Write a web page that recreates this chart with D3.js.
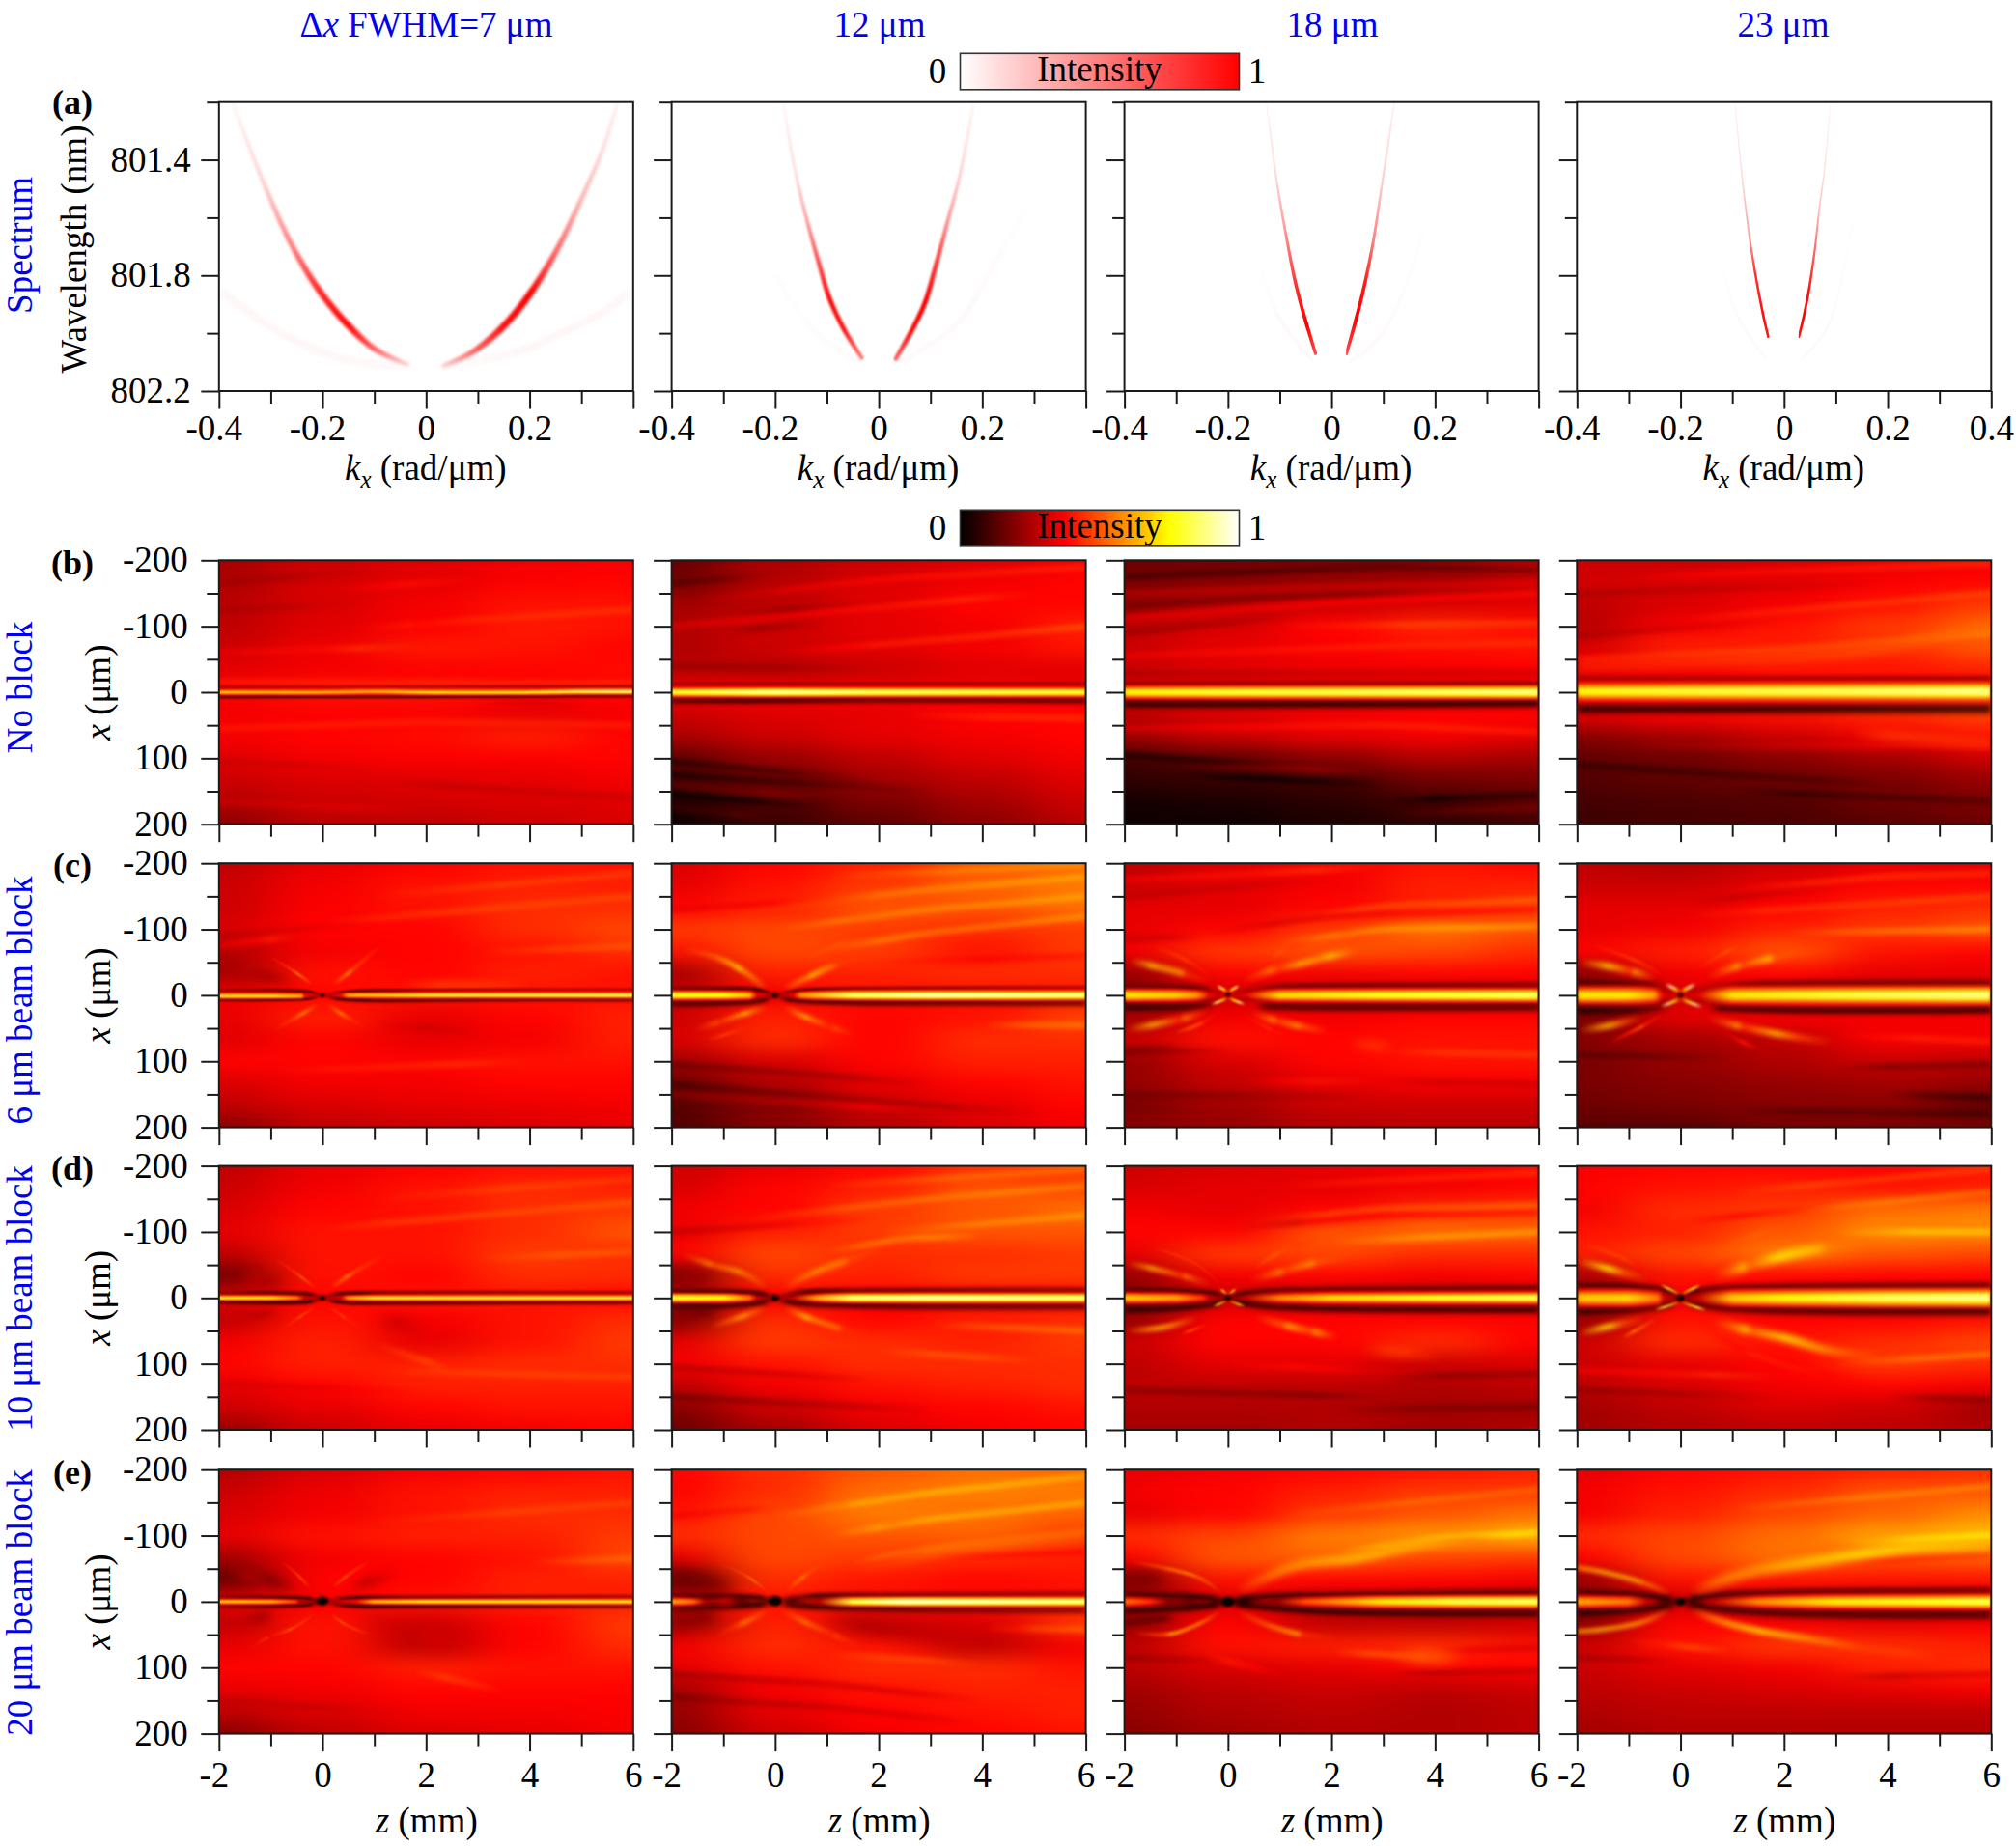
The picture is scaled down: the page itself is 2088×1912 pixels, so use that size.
<!DOCTYPE html>
<html><head><meta charset="utf-8">
<script src="https://cdnjs.cloudflare.com/ajax/libs/d3/7.8.5/d3.min.js"></script>
<style>html,body{margin:0;padding:0;background:#fff}svg{display:block}text{font-family:"Liberation Serif","Times New Roman",serif;fill:#000}</style>
</head><body><svg id="c" width="2088" height="1912" xmlns="http://www.w3.org/2000/svg"></svg>
<script>
// ---- axis ticks -------------------------------------------------------
const kMajor=[-0.4,-0.2,0,0.2,0.4], kMinor=[-0.3,-0.1,0.1,0.3];
const wlMajor=[801.4,801.8,802.2], wlMinor=[801.2,801.6,802.0];
const zMajor=[-2,0,2,4,6], zMinor=[-1,1,3,5];
const xMajor=[-200,-100,0,100,200], xMinor=[-150,-50,50,150];
const columnTitles=["12 μm","18 μm","23 μm"];
const rowLabels=["No block","6 μm beam block","10 μm beam block","20 μm beam block"];
const panelLetters=["(b)","(c)","(d)","(e)"];
const kGap=0.028;
// ---- spectrum branches: [k, wavelength, intensity] --------------------
const specA1=[[[0.03,802.115,.15],[0.09,802.065,.6],[0.15,801.975,.95],[0.2,801.865,1],[0.25,801.72,.6],[0.3,801.535,.3],[0.342,801.36,.15],[0.37,801.2,.06]],
 [[-0.033,802.11,.15],[-0.099,802.055,.6],[-0.149,801.975,.95],[-0.203,801.86,.85],[-0.258,801.7,.5],[-0.316,801.47,.18],[-0.374,801.2,.04]],
 [[0.03,802.115,.02],[0.176,802.065,.03],[0.26,802.0,.03],[0.34,801.93,.03],[0.39,801.86,.03]],
 [[-0.033,802.115,.02],[-0.158,802.09,.03],[-0.28,802.0,.03],[-0.395,801.854,.03]]];
const specA2=[[[0.031,802.094,.6],[0.064,801.99,.95],[0.089,801.896,1],[0.11,801.768,.8],[0.135,801.6,.4],[0.156,801.46,.2],[0.183,801.205,.05]],
 [[-0.031,802.09,.5],[-0.066,801.99,.9],[-0.095,801.88,.95],[-0.115,801.76,.7],[-0.14,801.6,.35],[-0.16,801.45,.15],[-0.185,801.2,.04]],
 [[0.04,802.1,.02],[0.15,801.97,.02],[0.23,801.74,.015],[0.29,801.55,.005]],
 [[-0.04,802.1,.015],[-0.12,802.0,.015],[-0.2,801.8,.01]]];
const specA3=[[[0.028,802.075,.7],[0.048,801.947,1],[0.064,801.83,.9],[0.081,801.678,.5],[0.0975,801.486,.2],[0.121,801.205,.05]],
 [[-0.03,802.075,.7],[-0.048,801.97,1],[-0.069,801.83,.8],[-0.09,801.64,.4],[-0.107,801.46,.15],[-0.125,801.205,.04]],
 [[0.035,802.1,.02],[0.09,802.02,.02],[0.147,801.82,.012],[0.177,801.63,.005]],
 [[-0.035,802.1,.02],[-0.1,801.95,.02],[-0.137,801.78,.005]]];
const specA4=[[[0.028,802.016,.9],[0.037,801.95,1],[0.047,801.86,.95],[0.059,801.715,.6],[0.068,801.57,.25],[0.078,801.436,.12],[0.09,801.2,.04]],
 [[-0.03,802.016,.9],[-0.04,801.94,.95],[-0.056,801.79,.8],[-0.068,801.65,.35],[-0.081,801.46,.15],[-0.095,801.2,.04]],
 [[0.034,802.09,.02],[0.084,801.98,.02],[0.115,801.78,.012],[0.134,801.6,.005]],
 [[-0.034,802.09,.02],[-0.09,801.94,.02],[-0.12,801.76,.005]]];
// ---- heat map background: rows x=-200..200, columns z=-2,0,2,4,6 --------
const zNodes=[-2,0,2,4,6];
const xNodes=[-200,-167,-133,-100,-67,-33,0,33,67,100,133,167,200];
const gridB1=[[24,30,33,36,37],[26,31,34,37,38],[27,32,36,40,40],[28,33,37,41,40],[30,35,41,40,38],[34,36,37,38,39],[36,40,40,38,38],[36,37,37,34,36],[36,38,39,42,38],[33,36,37,37,38],[30,32,33,34,36],[26,30,31,32,33],[20,27,28,30,32]];
const gridB2=[[15,25,30,33,36],[17,27,32,36,38],[24,28,34,38,38],[26,30,34,36,42],[26,30,33,36,40],[27,27,30,33,33],[36,36,36,36,36],[30,33,34,38,38],[25,30,34,36,38],[14,22,28,33,36],[10,16,24,28,33],[5,12,18,24,30],[2,8,14,20,27]];
const gridB3=[[16,16,18,20,26],[18,20,22,24,28],[22,26,30,32,34],[28,32,38,43,40],[30,34,37,39,40],[30,33,35,36,37],[30,30,30,30,30],[28,32,36,38,38],[24,30,34,36,34],[10,14,20,26,24],[7,8,10,16,18],[3,4,6,10,13],[2,2,4,6,10]];
const gridB4=[[30,30,32,34,37],[31,32,34,37,38],[28,32,36,40,46],[27,36,40,46,52],[32,42,42,44,50],[34,36,40,40,42],[36,36,36,36,36],[34,38,40,44,48],[20,24,30,36,40],[14,16,20,24,30],[12,14,16,18,22],[10,11,12,16,18],[9,10,11,13,16]];
const gridC1=[[28,34,37,40,40],[30,36,40,42,42],[30,37,40,44,44],[32,38,38,44,48],[26,36,38,40,44],[24,40,38,42,40],[36,38,40,40,40],[34,42,34,38,42],[33,38,34,36,42],[38,38,38,40,40],[32,36,36,38,38],[28,32,34,35,36],[20,28,30,32,34]];
const gridC2=[[32,38,42,50,52],[34,40,46,52,56],[38,42,50,50,54],[46,48,46,44,46],[40,48,46,40,46],[24,42,42,44,44],[30,36,40,40,40],[30,42,38,40,48],[32,44,38,44,44],[24,32,38,42,42],[16,26,34,38,40],[13,20,30,34,38],[12,20,26,32,36]];
const gridC3=[[28,32,36,40,38],[30,34,36,42,42],[34,34,38,42,46],[34,38,46,54,50],[36,46,50,48,44],[22,38,36,38,38],[20,30,30,30,30],[24,36,36,38,38],[30,40,38,40,40],[22,32,38,40,40],[22,28,34,36,36],[18,24,30,30,30],[20,22,26,28,28]];
const gridC4=[[28,26,30,34,34],[30,30,34,38,38],[34,34,38,42,44],[34,36,42,46,50],[38,42,50,40,38],[20,36,38,34,34],[24,30,32,32,32],[18,34,36,36,36],[20,24,28,36,36],[18,22,26,30,28],[18,20,22,24,22],[16,18,20,20,14],[13,13,17,18,18]];
const gridD1=[[28,34,37,39,40],[30,36,40,44,42],[32,38,40,44,46],[34,40,40,44,50],[28,40,40,46,44],[16,40,38,44,44],[32,38,40,40,38],[28,40,36,40,44],[36,42,34,40,46],[38,42,42,44,44],[34,38,42,42,42],[30,34,38,40,40],[22,30,34,36,38]];
const gridD2=[[30,34,38,44,46],[32,38,42,50,48],[36,38,46,50,54],[34,42,46,50,50],[38,48,44,44,46],[16,44,42,46,46],[30,36,38,38,38],[18,44,38,42,44],[34,46,44,42,46],[36,40,44,44,44],[28,36,40,42,44],[20,30,36,38,40],[16,24,32,36,38]];
const gridD3=[[30,32,34,36,38],[32,34,34,36,38],[36,34,38,44,46],[38,38,50,54,52],[34,46,48,44,44],[22,36,38,36,38],[20,30,30,30,30],[22,38,38,38,38],[30,38,38,44,38],[28,34,34,30,32],[28,28,28,26,28],[26,26,26,24,24],[24,24,26,24,26]];
const gridD4=[[36,38,38,38,40],[38,40,42,40,42],[36,44,46,54,56],[40,42,50,58,58],[42,48,56,50,48],[24,40,38,38,38],[30,36,36,36,36],[22,40,38,38,40],[30,44,40,44,48],[30,34,38,46,44],[28,32,36,38,36],[24,28,32,30,24],[24,26,28,28,26]];
const gridE1=[[26,32,36,38,40],[30,35,40,42,42],[32,36,40,44,44],[34,40,42,42,46],[24,36,38,40,48],[14,38,38,42,42],[34,36,40,42,42],[28,40,30,38,46],[34,40,28,38,44],[38,38,42,40,40],[34,36,38,38,38],[28,32,36,36,37],[20,28,32,34,36]];
const gridE2=[[38,44,50,54,52],[38,44,54,56,56],[40,48,56,54,52],[44,48,50,52,46],[34,48,46,44,42],[14,44,40,38,40],[32,40,40,40,40],[22,42,30,32,46],[36,44,40,28,36],[34,40,44,44,40],[24,36,40,42,42],[22,34,38,40,42],[20,30,36,38,40]];
const gridE3=[[34,36,38,40,42],[36,38,42,46,46],[34,38,46,50,54],[44,48,56,60,64],[38,50,52,48,46],[18,40,38,38,36],[26,32,30,30,30],[22,38,28,28,30],[28,40,42,44,40],[28,32,34,38,38],[24,28,30,28,30],[22,26,28,26,28],[20,24,26,26,28]];
const gridE4=[[34,38,40,42,44],[36,40,44,50,50],[36,42,48,52,58],[44,48,54,62,66],[38,48,54,50,52],[22,40,40,40,40],[24,30,32,32,32],[20,38,36,34,36],[30,40,46,44,42],[30,34,36,42,44],[28,30,32,34,36],[26,28,28,28,28],[24,26,26,26,26]];
// ---- faint streaks: [contrast, [z, x], ...]; positive is lighter, negative darker --
const streakB1=[[-.10,[-2,-125],[1,-135]],[-.12,[-2,-165],[1,-185]],[.12,[-1,-150],[3,-170]],[.15,[.5,-95],[3,-110],[6,-125]],[.12,[-2,-60],[2,-70]],[.15,[-2,55],[2,45],[6,50]],[-.12,[3,15],[5,20]],[-.10,[-2,105],[1,115]],[-.12,[1,135],[6,160]],[.1,[-2,165],[2,180]]];
const streakB2=[[-.2,[-2,-165],[0,-178]],[.2,[-1.5,-140],[2,-170],[6,-190]],[-.18,[-1,-118],[3,-140]],[.2,[-2,-100],[1,-122],[5,-150]],[-.2,[-1,-92],[1,-105]],[.25,[0,-60],[4,-85],[6,-100]],[-.15,[-2,-40],[2,-35]],[.2,[2.5,35],[6,40]],[-.25,[-2,105],[2,135]],[-.25,[-2,125],[3,150]],[-.25,[-2,155],[1,175]],[.15,[-2,140],[1,160]],[.12,[-2,175],[0,190]]];
const streakB3=[[-.25,[-2,-175],[3,-190],[6,-185]],[.2,[-2,-150],[2,-160],[6,-165]],[-.2,[-2,-130],[1,-145],[4,-155]],[.25,[-2,-112],[2,-135],[6,-150]],[-.2,[-2,-90],[1.2,-115]],[.2,[1,-100],[6,-105]],[.15,[-2,-55],[3,-70],[6,-75]],[-.15,[-2,-28],[6,-30]],[.2,[-2,55],[3,50],[6,60]],[-.25,[-2,95],[1,112]],[-.3,[-1,125],[3,140]],[.2,[-1,110],[3,120]],[.2,[3,185],[6,175]],[-.25,[3,165],[6,155]]];
const streakB4=[[.2,[-1,-175],[6,-195]],[-.15,[-2,-150],[4,-165]],[.2,[0,-110],[6,-150]],[-.15,[-2,-85],[2,-110]],[.2,[-2,-50],[2,-65],[6,-90]],[-.2,[-2,110],[4,140]],[-.2,[1,150],[6,165]],[.15,[-1,80],[6,80]]];
const streakC1=[[.18,[1,-150],[6,-185]],[.18,[0,-110],[6,-150]],[-.12,[-2,-90],[1,-110]],[.2,[3,-65],[6,-75]],[.2,[-2,-75],[-.5,-90]],[-.15,[1,45],[3,55]],[.15,[-1,115],[4,100]]];
const streakC2=[[.25,[1,-180],[6,-198]],[.25,[-.5,-130],[3,-160],[6,-180]],[.25,[0,-100],[3,-130],[6,-150]],[-.15,[-2,-130],[2,-150]],[.3,[1,-70],[3,-95],[6,-120]],[-.15,[2,-50],[6,-60]],[.3,[4,45],[6,45]],[-.25,[-2,105],[0,115],[3,135]],[-.2,[-2,135],[2,160],[5,180]],[.15,[-2,150],[3,175]]];
const streakC3=[[.2,[-2,-175],[3,-195]],[-.15,[-2,-150],[2,-175]],[.25,[1,-110],[3,-135],[6,-145]],[-.2,[-.5,-95],[2,-120],[6,-130]],[.3,[1,-80],[3,-100],[6,-105]],[-.2,[-2,-85],[-.5,-90]],[-.25,[-2,85],[0,85]],[.2,[3,85],[6,90]],[-.18,[3,130],[6,135]],[-.15,[-2,150],[3,155]],[.15,[-1,130],[3,130]]];
const streakC4=[[.25,[1,-160],[4,-180],[6,-185]],[-.15,[0,-140],[3,-165]],[.2,[0,-120],[3,-135],[6,-150]],[.3,[2,-95],[6,-100]],[-.2,[-2,90],[1,95]],[-.3,[3,110],[6,105]],[-.3,[4,150],[6,155]],[-.2,[1,175],[6,180]],[.2,[3,60],[6,70]]];
const streakD1=[[.15,[1,-150],[6,-180]],[.2,[0,-105],[6,-145]],[.2,[3,-60],[6,-70]],[.15,[1,110],[6,120]],[.2,[1,70],[2.5,110]],[-.1,[-2,130],[2,145]]];
const streakD2=[[.25,[1,-170],[6,-195]],[.25,[-.5,-120],[3,-150],[6,-170]],[.25,[2,-100],[6,-125]],[-.2,[-2,-100],[2,-120]],[.3,[1,-70],[2.5,-90],[4,-95]],[.3,[3,40],[6,50]],[-.25,[-2,105],[2,125]],[-.25,[-2,150],[3,170]],[.2,[2,80],[5,95]]];
const streakD3=[[.2,[1,-170],[6,-190]],[.25,[1,-120],[3,-135],[6,-140]],[-.2,[0,-105],[3,-125],[6,-130]],[.3,[2,-85],[6,-100]],[-.25,[3,120],[6,115]],[-.25,[-2,140],[3,150]],[.15,[0,100],[4,115]],[-.2,[2,170],[6,165]]];
const streakD4=[[.2,[1,-160],[6,-195]],[.25,[2,-130],[6,-160]],[-.2,[0,-115],[3,-140]],[.3,[3,-100],[6,-100]],[.3,[3,100],[6,85]],[-.3,[4,150],[6,155]],[.2,[-2,110],[2,120]],[-.2,[-2,140],[2,150]]];
const streakE1=[[.15,[1,-120],[6,-150]],[.2,[4,-60],[6,-65]],[.2,[1.8,105],[3.5,135]],[-.1,[-2,150],[2,170]]];
const streakE2=[[.3,[0,-130],[3,-165],[6,-190]],[.3,[1,-100],[3,-125],[6,-150]],[.3,[1.5,-60],[3,-80],[6,-105]],[-.15,[-2,-130],[1,-150]],[-.15,[3,-65],[6,-75]],[.3,[4,40],[6,42]],[-.25,[-2,110],[1,125],[4,150]],[-.2,[-2,145],[1,160],[4,185]],[.2,[1,80],[4,95]]];
const streakE3=[[.2,[1,-130],[6,-170]],[.3,[2,-75],[4,-95],[6,-105]],[-.25,[4,75],[6,70]],[.3,[2,75],[4,85]],[-.25,[3,110],[6,105]],[-.2,[-2,85],[0,90]],[.2,[-.5,80],[1,110]]];
const streakE4=[[.25,[1,-140],[6,-175]],[.3,[3,-90],[6,-100]],[-.2,[2,-55],[6,-70]],[-.25,[3,115],[6,110]],[.25,[-1,60],[1,75]],[-.2,[-2,85],[0,90]]];
// ---- beam bands: each segment lists [z, x, peak intensity] --------------
const beamB1=[[[-2,0,72],[-1,0,70],[0,0,68],[1,-1,68],[2,0,75],[4,0,78],[5,-1,85],[6,-1,92]]];
const beamB2=[[[-2,0,78],[0,0,90],[2,0,84],[6,0,80]]];
const beamB3=[[[-2,0,74],[0,0,80],[2,0,82],[6,0,88]]];
const beamB4=[[[-2,-1,76],[0,-1,80],[3,-1,84],[6,-1,90]]];
const beamC1=[[[-2,1,80],[-1,1,80],[-.4,1,70],[-.1,0,40]],[[.1,0,40],[.5,0,70],[2,0,82],[4,0,85],[6,0,88]]];
const beamC2=[[[-2,0,78],[-1,0,76],[-.5,0,66],[-.1,0,36]],[[.1,0,36],[.5,0,60],[1.5,0,85],[3,0,92],[6,0,88]]];
const beamC3=[[[-2,0,72],[-1,0,68],[-.6,0,60],[-.1,0,36]],[[.1,0,36],[1,0,70],[3,0,78],[6,0,85]]];
const beamC4=[[[-2,0,72],[-1,0,72],[-.5,0,62],[-.1,0,36]],[[.1,0,36],[1,0,72],[3,0,80],[6,0,88]]];
const beamD1=[[[-2,0,80],[-1,0,76],[-.5,0,60],[-.1,0,34]],[[.1,0,34],[.5,0,65],[1,0,80],[6,0,82]]];
const beamD2=[[[-2,0,80],[-1,0,75],[-.5,0,55],[-.1,0,30]],[[.1,0,30],[.8,0,62],[1.5,0,88],[3,0,92],[6,0,88]]];
const beamD3=[[[-2,0,68],[-1,0,62],[-.5,0,46],[-.1,0,30]],[[.1,0,30],[1,0,58],[2,0,70],[4,0,78],[6,0,84]]];
const beamD4=[[[-2,0,68],[-1,0,70],[-.4,0,55],[-.1,0,32]],[[.1,0,32],[1,0,68],[2,0,75],[4,0,85],[6,0,90]]];
const beamE1=[[[-2,0,72],[-1,0,68],[-.5,0,50],[-.2,0,30]],[[.4,0,40],[1,0,70],[2,0,78],[6,0,78]]];
const beamE2=[[[-2,0,62],[-1.6,0,55],[-1.1,0,28]],[[.6,0,30],[1.5,0,82],[2.5,0,95],[4,0,92],[6,0,88]]];
const beamE3=[[[-2,0,55],[-1.5,0,45],[-.9,0,22]],[[.7,0,24],[1.5,0,50],[3,0,72],[4.5,0,82],[6,0,85]]];
const beamE4=[[[-2,0,62],[-1,0,55],[-.4,0,30]],[[.4,0,30],[1.5,0,58],[3,0,72],[5,0,78],[6,0,82]]];
const beamWidths=[[7,13,18,24],[7,13,18,24],[7,13,16,24],[7,13,17,20]];
// ---- focus dark spot: [z, x, radius, intensity] ---------------------------
const spots=[null,null,null,null,[0,0,3,2],[0,0,4,2],[0,-1,3,2],[0,0,3,2],[0,0,4,1],[0,0,5,1],[0,0,4,1],[0,0,5,1],[0,-1,7,1],[0,-1,8,1],[0,0,8,1],[0,0,6,1]];
// ---- bands: [width, [z, x, intensity], ...] ------------------------------
const linesB1=[[9,[-2,-16,41],[2,-15,43],[6,-14,43]],[3,[-2,-8,22],[6,-9,18]],[4,[-2,7,8],[2,7,8],[6,6,16]]];
const linesB2=[[5,[-2,-13,24],[6,-13,22]],[7,[-2,13,8],[-.5,13,2],[2,12,10],[6,13,8]]];
const linesB3=[[6,[-2,-13,22],[6,-13,20]],[10,[-2,18,4],[2,18,3],[6,17,4]]];
const linesB4=[[16,[-2,-41,42],[3.2,-61,48],[6,-100,54]],[14,[3.3,61,46],[6,76,44]],[8,[-2,-21,24],[6,-21,22]],[12,[-2,25,3],[2,25,2],[6,25,4]]];
const linesC1=[[12,[1.5,-16,46],[4,-16,45]],[16,[-1.8,-32,26],[-1,-28,24],[-.5,-15,26]],
 [4,[-2,-8,22],[-1,-8,14],[-.3,-6,6],[0,0,3]],[4,[0,0,3],[.5,-6,10],[2,-8,20],[6,-9,26]],[4,[-2,7,14],[-1,7,10],[-.3,5,5],[0,0,3]],[5,[0,0,3],[.3,5,5],[1,8,8],[3,7,12],[6,7,16]],
 [3,[-.18,-16,60],[-.62,-40,46],[-1.05,-60,42]],[5,[.2,-16,60],[.57,-38,48],[1.11,-75,44]],[5,[-.08,13,58],[-.5,33,50],[-.94,52,44]],[5,[.09,13,58],[.47,33,48],[.9,52,42]]];
const linesC2=[[6,[-2,-10,18],[-1,-10,10],[-.4,-9,6],[0,-1,3]],[5,[0,-1,3],[.4,-7,10],[1.5,-10,16],[6,-12,24]],[8,[-2,13,10],[-1,12,8],[-.3,8,6],[0,1,3]],[8,[0,1,3],[.4,7,6],[1.5,11,8],[4,12,12],[6,12,14]],
 [8,[-.16,-9,68],[-.6,-36,58],[-1.14,-58,52],[-1.8,-70,50]],[8,[.16,-9,66],[.6,-26,56],[1.14,-45,52],[1.8,-60,46]],[7,[-.16,18,60],[-.6,28,68],[-1.14,42,50],[-1.57,52,44]],[7,[.16,18,60],[.6,33,66],[1.14,50,50],[1.57,60,42]],
 [5,[-.5,48,44],[-1.3,68,46]],[6,[.5,-55,48],[1.5,-85,50]]];
const linesC3=[[8,[-2,-13,16],[-1,-12,12],[-.3,-9,10]],[8,[.3,-10,14],[1.5,-14,14],[6,-16,18]],[10,[-2,18,6],[-.8,17,8],[-.2,12,14]],[10,[.5,16,10],[2,18,8],[6,18,10]],
 [9,[-1.9,-53,60],[-1.47,-45,66],[-.85,-33,60],[-.29,-19,44]],[5,[-1.47,-75,44],[-.85,-55,46],[-.29,-26,42]],[10,[.27,-21,46],[.83,-38,56],[1.39,-48,62],[2,-60,66],[2.5,-67,58]],[6,[.4,-38,44],[1,-65,50],[1.64,-85,46]],
 [9,[-1.95,52,62],[-1.47,45,64],[-.85,35,58],[-.35,23,42]],[5,[-1.03,57,50],[-.53,43,48],[-.16,23,40]],[9,[.4,25,46],[.9,38,60],[1.39,47,62],[1.95,55,52]],[5,[.27,28,40],[.83,52,44],[1.15,62,40]],[14,[2.3,72,44],[3.2,79,46]],[10,[-2,85,20],[-1,80,22]],
 [4,[-.22,-15,85],[0,-5,70]],[4,[.22,-15,85],[0,-5,70]],[4,[-.32,14,88],[0,4,70]],[4,[.33,14,88],[0,4,70]]];
const linesC4=[[10,[-2,-19,10],[-1,-18,12],[-.3,-14,14]],[9,[.4,-12,18],[1.5,-17,14],[6,-19,15]],[12,[-2,22,3],[-1,22,6],[-.2,15,14]],[10,[.5,18,10],[2,22,6],[6,22,5]],
 [10,[-1.94,-50,66],[-1.38,-44,66],[-.88,-35,62],[-.45,-26,45]],[5,[-1.7,-77,42],[-.88,-53,46],[-.32,-29,44]],[10,[.49,-26,48],[1.1,-44,62],[1.73,-56,66],[2.54,-68,50]],[5,[.36,-41,46],[.86,-65,50],[1.6,-89,44]],
 [9,[-1.94,53,60],[-1.38,46,66],[-.76,34,52]],[5,[-1.38,72,40],[-.76,48,50],[-.32,28,40]],[10,[.49,34,44],[1.1,46,60],[1.85,58,64],[2.97,72,48]],[6,[.36,37,30],[1.23,72,40],[2.1,102,28]],
 [5,[-.29,-17,95],[0,-5,75]],[5,[.29,-17,95],[0,-5,75]],[5,[-.38,17,92],[0,5,75]],[5,[.42,18,92],[0,5,75]]];
const linesD1=[[18,[-1.6,-28,27],[-.7,-20,25]],[20,[1,30,30],[2,48,31]],[12,[-1.6,30,28],[-.8,20,28]],
 [5,[-2,-8,22],[-1,-8,12],[-.3,-6,4],[0,-1,2]],[5,[0,-1,2],[.3,-6,5],[1,-8,14],[6,-8,22]],[6,[-2,6,16],[-1,7,8],[-.3,6,4],[0,1,2]],[5,[0,1,2],[.4,7,5],[1,8,8],[6,7,12]],
 [3,[-.13,-14,55],[-.5,-37,46],[-.95,-61,42]],[6,[.14,-14,55],[.57,-37,48],[1.22,-66,44]],[3,[-.13,12,50],[-.5,32,44],[-1.05,61,40]],[3,[.1,12,50],[.47,32,42],[1,61,40]]];
const linesD2=[[18,[-2,-32,22],[-1.2,-30,22]],[12,[-2,25,20],[-1,22,16]],
 [8,[-2,-10,12],[-1,-9,6],[-.3,-6,3],[0,-1,1]],[7,[0,-1,2],[.5,-8,6],[1.5,-11,12],[6,-12,16]],[9,[-2,12,8],[-1,12,6],[-.3,7,4],[0,1,2]],[9,[0,1,2],[.5,8,5],[1.5,11,7],[3,13,10],[6,13,12]],
 [8,[-.16,-15,58],[-.6,-37,52],[-1.24,-51,58],[-1.8,-66,48]],[9,[.16,-15,58],[.7,-37,56],[1.35,-56,56],[2.1,-76,48]],[8,[-.16,15,55],[-.6,27,62],[-1.24,44,50]],[8,[.16,15,55],[.6,29,66],[1.24,46,54],[1.9,61,44]]];
const linesD3=[[7,[-2,-12,12],[-1,-11,8],[-.3,-7,5],[0,-1,2]],[7,[0,-1,2],[.5,-9,9],[1.5,-13,12],[6,-16,12]],[10,[-2,17,5],[-1,15,6],[-.3,9,8],[0,1,2]],[10,[0,1,2],[.6,11,8],[1.5,15,7],[6,18,6]],
 [8,[-1.97,-53,58],[-1.47,-45,62],[-.85,-33,56],[-.29,-19,44]],[4,[-1.47,-77,44],[-.6,-51,44],[-.16,-21,42]],[10,[.4,-26,46],[1.02,-40,58],[1.64,-53,60],[2.39,-62,50]],[6,[.52,-45,50],[1.02,-70,48],[1.77,-90,46]],
 [8,[-1.97,50,58],[-1.28,45,62],[-.6,30,56]],[4,[-.9,55,48],[-.4,40,42]],[10,[.52,28,52],[1.14,42,64],[1.7,52,62],[2.14,60,48]],[14,[2.6,77,46],[3.5,82,46],[4.1,87,44]],
 [3,[-.16,-14,78],[0,-5,62]],[3,[.16,-14,78],[0,-5,62]],[3,[-.29,13,75],[0,4,60]],[3,[.33,13,75],[0,4,60]]];
const linesD4=[[9,[-2,-18,8],[-1,-17,6],[-.3,-11,8],[0,-1,2]],[9,[0,-1,2],[.5,-12,10],[1.5,-16,9],[6,-19,12]],[11,[-2,19,3],[-1,17,6],[-.3,10,10],[0,1,2]],[11,[0,1,2],[.5,11,8],[1.5,17,5],[6,20,4]],
 [10,[-1.97,-56,68],[-1.38,-44,72],[-.63,-29,50]],[6,[-1.97,-83,46],[-1.07,-59,46],[-.26,-17,40]],[13,[.6,-32,52],[1.23,-47,70],[1.9,-62,74],[2.66,-74,66],[3.6,-83,56]],[9,[.5,-47,50],[1.1,-83,50],[2,-107,52]],
 [9,[-1.97,54,66],[-1.38,43,70],[-.7,31,50]],[5,[-1.13,61,54],[-.45,31,46]],[12,[.6,34,54],[1.3,49,72],[2.04,61,72],[2.85,79,58],[3.9,88,52]],[7,[.49,49,38],[1.4,85,42],[2.35,109,40],[3.6,127,38]],
 [4,[-.39,-20,80],[0,-5,65]],[4,[.39,-20,80],[0,-5,65]],[4,[-.5,18,80],[0,6,65]],[4,[.5,19,80],[0,6,65]]];
const linesE1=[[16,[-1.8,-47,26],[-1.1,-35,20],[-.5,-18,18]],[14,[.5,-20,26],[1.5,-45,32]],[20,[.7,25,30],[1.8,50,29],[2.8,65,32]],[16,[-1.7,30,28],[-.9,20,22]],
 [5,[-2,-8,22],[-1,-7,10],[-.3,-5,3],[0,0,1]],[5,[0,0,1],[.5,-6,6],[1.5,-7,14],[6,-8,22]],[5,[-2,7,20],[-1,7,10],[-.3,5,3],[0,0,1]],[6,[0,0,1],[.5,6,5],[1.5,7,8],[6,7,18]],
 [3,[-.23,-20,50],[-.57,-47,44],[-.82,-62,42]],[4,[.18,-20,50],[.52,-42,46],[.93,-62,44]],[4,[-.15,18,50],[-.57,40,46],[-1.07,55,44],[-1.48,75,36]],[3,[.14,18,52],[.52,38,46],[.93,50,46]]];
const linesE2=[[14,[1.5,-45,46],[3,-75,52],[6,-100,50]],
 [24,[-2,-35,16],[-1.3,-28,16],[-.7,-15,18]],[18,[-2,30,22],[-1,20,18]],[24,[.9,25,26],[2,40,26],[4,55,29]],
 [7,[-2,-9,14],[-1,-8,5],[-.3,-6,2],[0,0,1]],[7,[0,0,1],[.7,-8,5],[2,-10,12],[6,-12,20]],[9,[-2,11,14],[-1,7,5],[-.3,4,2],[0,0,1]],[9,[0,0,1],[.5,6,3],[1.5,9,8],[3,12,14],[6,13,18]],[12,[-1.2,0,30],[-.4,0,8]],[12,[.1,0,5],[.7,0,18]],
 [3,[-.16,-17,56],[-.6,-41,48],[-1.03,-56,46]],[5,[.22,-17,56],[.6,-41,50],[1.14,-73,46]],[7,[-.1,12,52],[-.6,32,56],[-1.14,51,44]],[7,[.1,12,52],[.6,32,56],[1.14,51,48],[1.68,70,42]]];
const linesE3=[[18,[-2,-38,20],[-1.2,-32,18]],[10,[-2,32,14],[-1,24,14]],
 [8,[-2,-11,10],[-1,-9,5],[-.3,-5,2],[0,0,1]],[8,[0,0,1],[.7,-8,5],[2,-11,8],[6,-15,12]],[10,[-2,14,8],[-1,10,5],[-.3,5,2],[0,0,1]],[10,[0,0,1],[.7,8,4],[2,15,5],[6,18,6]],[14,[-1.2,0,18],[-.5,0,8]],[12,[.1,0,4],[.8,0,18]],
 [5,[-.14,-15,56],[-.57,-37,50],[-1.1,-49,54],[-1.87,-61,48]],[13,[.18,-15,56],[.72,-37,52],[1.37,-56,60],[2.46,-66,66],[3.75,-86,62],[5.4,-95,56]],[6,[-.14,15,54],[-.57,34,54],[-1.1,49,60],[-1.87,47,46]],[7,[.18,15,54],[.72,34,50],[1.37,49,62],[2.13,56,44]],[18,[3.2,81,52],[4.6,86,50]]];
const linesE4=[[9,[-2,-14,10],[-1,-11,6],[-.3,-5,2],[0,0,1]],[9,[0,0,1],[.6,-9,6],[2,-14,10],[6,-17,14]],[11,[-2,17,3],[-1,13,5],[-.3,6,2],[0,0,1]],[11,[0,0,1],[.6,9,5],[2,17,5],[6,20,5]],
 [7,[-.2,-12,62],[-.7,-28,54],[-1.5,-45,62],[-2,-52,56]],[14,[.2,-12,60],[.7,-30,56],[1.5,-48,62],[2.5,-60,70],[3.5,-72,74],[4.5,-82,70],[6,-88,64]],[7,[-.2,12,60],[-.7,30,56],[-1.5,42,62],[-2,45,58]],[10,[.2,12,60],[.7,28,56],[1.5,44,68],[2.3,54,60],[3.5,70,46],[5,82,46]]];
const grids=[gridB1,gridB2,gridB3,gridB4,gridC1,gridC2,gridC3,gridC4,gridD1,gridD2,gridD3,gridD4,gridE1,gridE2,gridE3,gridE4];
const beams=[beamB1,beamB2,beamB3,beamB4,beamC1,beamC2,beamC3,beamC4,beamD1,beamD2,beamD3,beamD4,beamE1,beamE2,beamE3,beamE4];
const bands=[linesB1,linesB2,linesB3,linesB4,linesC1,linesC2,linesC3,linesC4,linesD1,linesD2,linesD3,linesD4,linesE1,linesE2,linesE3,linesE4];
const streaks=[streakB1,streakB2,streakB3,streakB4,streakC1,streakC2,streakC3,streakC4,streakD1,streakD2,streakD3,streakD4,streakE1,streakE2,streakE3,streakE4];
const specs=[specA1,specA2,specA3,specA4];
const specWidths=[.013,.0095,.007,.005];

// ---- layout ---------------------------------------------------------------
const svg=d3.select("#c"), defs=svg.append("defs");
const lefts=[226.8,695.6,1164.6,1633.3], panelW=429;
const tops=[580.3,894.2,1207.6,1522.2], panelH=273.4;
const aTop=105.7,aBottom=405;
const FS=37, INK="#1a1a1a";
const hot=d3.scaleLinear().domain([0,37.5,75,100]).range(["#000","#f00","#ff0","#fff"]).clamp(true);
let uid=0;

function blurFilter(b,sx,sy){const id="f"+(uid++);
  const f=defs.append("filter").attr("id",id).attr("filterUnits","userSpaceOnUse").attr("color-interpolation-filters","sRGB")
    .attr("x",b[0]).attr("y",b[1]).attr("width",b[2]).attr("height",b[3]);
  f.append("feGaussianBlur").attr("stdDeviation",sx+" "+sy);return "url(#"+id+")";}
function clip(x,y,w,h){const id="c"+(uid++);defs.append("clipPath").attr("id",id).append("rect").attr("x",x).attr("y",y).attr("width",w).attr("height",h);return "url(#"+id+")";}

// gradient along the chord of a band; colour and opacity follow its points
function bandGradient(P,color,opacity,fadeEnds,fadePx){
  const a=P[0],b=P[P.length-1],dx=b[0]-a[0],dy=b[1]-a[1],L2=dx*dx+dy*dy||1,L=Math.sqrt(L2);
  const id="g"+(uid++);
  const gr=defs.append("linearGradient").attr("id",id).attr("gradientUnits","userSpaceOnUse").attr("x1",a[0]).attr("y1",a[1]).attr("x2",b[0]).attr("y2",b[1]);
  const proj=(x,y)=>Math.max(0,Math.min(1,((x-a[0])*dx+(y-a[1])*dy)/L2));
  const stops=P.map(p=>[proj(p[0],p[1]),color(p[2]),opacity(p[2])]);
  const fl=Math.min(.35,(fadePx||24)/L);
  if(fadeEnds[0]){stops[0][2]=0;stops.splice(1,0,[fl,color(a[2]),opacity(a[2])]);}
  if(fadeEnds[1]){stops[stops.length-1][2]=0;stops.splice(stops.length-1,0,[1-fl,color(b[2]),opacity(b[2])]);}
  stops.sort((u,v)=>u[0]-v[0]).forEach(s=>gr.append("stop").attr("offset",s[0]).attr("stop-color",s[1]).attr("stop-opacity",s[2]));
  return {id:"url(#"+id+")",proj};
}
const curveFor=P=>d3.line().curve(P.length>2?d3.curveCatmullRom.alpha(.5):d3.curveLinear)(P.map(p=>[p[0],p[1]]));
function band(g,P,width,color,opacity,fadeEnds,fadePx){
  const gr=bandGradient(P,color,opacity,fadeEnds,fadePx);
  return g.append("path").attr("d",curveFor(P)).attr("fill","none").attr("stroke",gr.id).attr("stroke-width",width);
}
// a band whose width follows its own values
function ribbon(g,P,widthOf,color,opacity,fadeEnds,fadePx){
  const gr=bandGradient(P,color,opacity,fadeEnds,fadePx);
  const temp=svg.append("path").attr("d",curveFor(P)).attr("fill","none");
  const node=temp.node(),L=node.getTotalLength(),n=Math.max(2,Math.ceil(L/5));
  const ts=P.map(p=>gr.proj(p[0],p[1])),vs=P.map(p=>p[2]);
  const valueAt=d3.scaleLinear().domain(ts).range(vs).clamp(true);
  const up=[],dn=[];
  for(let i=0;i<=n;i++){const s=i/n*L,q=node.getPointAtLength(s),q0=node.getPointAtLength(Math.max(0,s-1)),q1=node.getPointAtLength(Math.min(L,s+1));
    let tx=q1.x-q0.x,ty=q1.y-q0.y;const m=Math.hypot(tx,ty)||1;tx/=m;ty/=m;
    const h=widthOf(valueAt(gr.proj(q.x,q.y)))/2;
    up.push([q.x-ty*h,q.y+tx*h]);dn.push([q.x+ty*h,q.y-tx*h]);}
  temp.remove();
  return g.append("path").attr("d",d3.line()(up.concat(dn.reverse()))+"Z").attr("fill",gr.id).attr("stroke","none");
}

function axes(g,sx,sy,W,H,xMaj,xMin,yMaj,yMin,xFmt,yFmt,xLabelY,yLabelX){
  g.append("rect").attr("x",sx.range()[0]).attr("y",sy.range()[0]).attr("width",W).attr("height",H).attr("fill","none").attr("stroke",INK).attr("stroke-width",2);
  const ax=(sel)=>{sel.select(".domain").remove();sel.selectAll("line").attr("stroke",INK).attr("stroke-width",2);};
  const bot=sy.range()[1],lft=sx.range()[0];
  g.append("g").attr("transform",`translate(0,${bot})`).call(d3.axisBottom(sx).tickValues(xMin).tickSize(13).tickFormat("")).call(ax);
  const bm=g.append("g").attr("transform",`translate(0,${bot})`).call(d3.axisBottom(sx).tickValues(xMaj).tickSize(18.5).tickFormat(xFmt||"")).call(ax);
  bm.selectAll("text").attr("y",xLabelY).attr("dy",0).attr("font-size",FS).attr("font-family","Liberation Serif").attr("dx",d=>d<0?-5.5:0);
  g.append("g").attr("transform",`translate(${lft},0)`).call(d3.axisLeft(sy).tickValues(yMin).tickSize(12.5).tickFormat("")).call(ax);
  const lm=g.append("g").attr("transform",`translate(${lft},0)`).call(d3.axisLeft(sy).tickValues(yMaj).tickSize(18.5).tickFormat(yFmt||"")).call(ax);
  lm.selectAll("text").attr("x",yLabelX).attr("dy",11.5).attr("font-size",FS).attr("font-family","Liberation Serif").attr("text-anchor","end");
}

// ---- top titles -------------------------------------------------------------
const T=(x,y,s,o={})=>{const t=svg.append("text").attr("x",x).attr("y",y).attr("font-size",o.size||FS).attr("text-anchor",o.anchor||"middle").attr("fill",o.fill||"#000").style("fill",o.fill||"#000");
  if(o.weight)t.attr("font-weight",o.weight); if(o.rot)t.attr("transform",`rotate(-90 ${x} ${y})`); if(s!=null)t.text(s);return t;};
const BLUE="#0000f0";
const first=T(441.5,38,null,{fill:BLUE});first.append("tspan").text("Δ");first.append("tspan").attr("font-style","italic").text("x");first.append("tspan").text(" FWHM=7 μm");
[911,1380,1847].forEach((x,i)=>T(x,38,columnTitles[i],{fill:BLUE}));
T(32.6,254,"Spectrum",{fill:BLUE,rot:1});
[712,1036,1345,1660].forEach((y,i)=>T(32.6,y,rowLabels[i],{fill:BLUE,rot:1}));
T(75,118,"(a)",{weight:"bold",size:36});
[595,908,1222,1537].forEach((y,i)=>T(75,y,panelLetters[i],{weight:"bold",size:36}));
T(89,258,"Wavelength (nm)",{rot:1});

// ---- colour bars ------------------------------------------------------------
function colorbar(y,stops){const id="cb"+(uid++);
  const gr=defs.append("linearGradient").attr("id",id);
  stops.forEach(s=>gr.append("stop").attr("offset",s[0]).attr("stop-color",s[1]));
  svg.append("rect").attr("x",994.5).attr("y",y).attr("width",289).attr("height",37.5).attr("fill",`url(#${id})`).attr("stroke","#333").attr("stroke-width",1.6);
  T(971,y+31,"0");T(1139,y+29,"Intensity");T(1302,y+31,"1");}
colorbar(55.3,[[0,"#fff"],[1,"#f00"]]);
colorbar(528.3,[[0,"#000"],[.375,"#f00"],[.75,"#ff0"],[1,"#fff"]]);

// ---- spectrum row -----------------------------------------------------------
const fmtK=d=>d===0?"0":d3.format(".1f")(d).replace("−","-");
specs.forEach((spec,c)=>{
  const L=lefts[c],sx=d3.scaleLinear([-0.4,0.4],[L,L+panelW]),sy=d3.scaleLinear([801.2,802.2],[aTop,aBottom]);
  const g=svg.append("g");
  const inner=g.append("g").attr("clip-path",clip(L,aTop,panelW,aBottom-aTop));
  const wpx=specWidths[c]*panelW/.8;
  const std=Math.max(.6,wpx*.2);
  const fg=inner.append("g").attr("filter",blurFilter([L-20,aTop-20,panelW+40,aBottom-aTop+40],std,std));
  spec.forEach((br,i)=>{const P=br.map(p=>[sx(p[0]),sy(p[1]),p[2]]);
    if(i<2) ribbon(fg,P,v=>wpx*(.3+.7*Math.sqrt(v)),()=>"#f00",v=>v,[false,false]);
    else band(fg,P,wpx*1.2,()=>"#f00",v=>v,[false,false]);});
  inner.append("rect").attr("x",sx(-kGap)).attr("width",sx(kGap)-sx(-kGap)).attr("y",aTop).attr("height",aBottom-aTop).attr("fill","#fff");
  const majors=c===3?kMajor:kMajor.slice(0,4);
  const gg=g.append("g");
  axes(gg,sx,sy,panelW,aBottom-aTop,kMajor,kMinor,wlMajor,wlMinor,d=>majors.includes(d)?fmtK(d):"",c===0?d3.format(".1f"):null,51,-29);
  const t=T(L+214,497,null);t.append("tspan").attr("font-style","italic").text("k");
  t.append("tspan").attr("font-style","italic").attr("font-size",25).attr("dy",8).text("x");
  t.append("tspan").attr("dy",-8).text(" (rad/μm)");
});

// ---- heat maps --------------------------------------------------------------
const PX=panelH/400;
const zIdx=d3.scaleLinear().domain(zNodes).range(zNodes.map((_,i)=>i)).clamp(true);
const xIdx=d3.scaleLinear().domain(xNodes).range(xNodes.map((_,i)=>i)).clamp(true);
const fieldAt=(grid,z,x)=>{const a=zIdx(z),b=xIdx(x),a0=Math.floor(a),b0=Math.floor(b),a1=Math.min(a0+1,zNodes.length-1),b1=Math.min(b0+1,xNodes.length-1),u=a-a0,w=b-b0;
  return (grid[b0][a0]*(1-u)+grid[b0][a1]*u)*(1-w)+(grid[b1][a0]*(1-u)+grid[b1][a1]*u)*w;};
grids.forEach((grid,n)=>{
  const c=n%4,r=Math.floor(n/4),L=lefts[c],Y=tops[r];
  const sx=d3.scaleLinear([-2,6],[L,L+panelW]),sy=d3.scaleLinear([-200,200],[Y,Y+panelH]);
  const g=svg.append("g");
  const inner=g.append("g").attr("clip-path",clip(L,Y,panelW,panelH));
  const region=[L-140,Y-140,panelW+280,panelH+280];
  const tight=[L-30,Y-30,panelW+60,panelH+60];
  const field=inner.append("g").attr("filter",blurFilter(region,28,9));
  const edge=(arr,i,sc,pad)=>{const lo=i===0?sc(arr[0])-pad:sc((arr[i-1]+arr[i])/2),hi=i===arr.length-1?sc(arr[i])+pad:sc((arr[i]+arr[i+1])/2);return [lo,hi];};
  grid.forEach((row,i)=>{const [y0,y1]=edge(xNodes,i,sy,120);
    row.forEach((v,j)=>{const [x0,x1]=edge(zNodes,j,sx,120);
      field.append("rect").attr("x",x0).attr("y",y0).attr("width",x1-x0+1).attr("height",y1-y0+1).attr("fill",hot(v));});});
  const cache={};
  const soft=std=>{const k=std.toFixed(1);return cache[k]||(cache[k]=blurFilter(tight,+k,+k));};
  const isEdge=z=>z<=-2||z>=6;
  // faint fan of streaks, tinted from the local background
  const sg=inner.append("g").attr("filter",soft(2.6));
  streaks[n].forEach(s=>{const [d,...pts]=s;
    const P=[];pts.forEach((p,i)=>{P.push(p);if(i<pts.length-1)P.push([(p[0]+pts[i+1][0])/2,(p[1]+pts[i+1][1])/2]);});
    const V=P.map(p=>[sx(p[0]),sy(p[1]),Math.max(1,fieldAt(grid,p[0],p[1])+d*32)]);
    band(sg,V,8*PX*1.1,hot,()=>.85,[!isEdge(pts[0][0]),!isEdge(pts[pts.length-1][0])],70);});
  bands[n].forEach(lin=>{const [w,...pts]=lin;
    const P=pts.map(p=>[sx(p[0]),sy(p[1]),p[2]]);
    const h=inner.append("g").attr("filter",soft(Math.max(.8,w*PX*.42)));
    band(h,P,w*PX,hot,()=>.9,[!isEdge(pts[0][0]),!isEdge(pts[pts.length-1][0])],pts[pts.length-1][2]<15?14:40);});
  const bw=beamWidths[r][c]*PX;
  const bg=inner.append("g").attr("filter",soft(Math.max(.8,bw*.13)));
  beams[n].forEach(seg=>{
    const fade=[!isEdge(seg[0][0]),!isEdge(seg[seg.length-1][0])];
    [[1.15,.55],[.78,.84],[.4,1]].forEach(([wf,vf])=>{
      ribbon(bg,seg.map(p=>[sx(p[0]),sy(p[1]),p[2]*vf]),v=>bw*wf*Math.min(1,.2+.8*(v/vf)/68),hot,()=>1,fade,14);});
  });
  if(spots[n]){const [z,x,rad,v]=spots[n];
    inner.append("ellipse").attr("cx",sx(z)).attr("cy",sy(x)).attr("rx",rad*PX*1.3).attr("ry",rad*PX).attr("fill",hot(v)).attr("filter",soft(1.6));}
  const bottom=r===3;
  const gg=g.append("g");
  axes(gg,sx,sy,panelW,panelH,zMajor,zMinor,xMajor,xMinor,bottom?(d=>String(d)):null,c===0?(d=>String(d)):null,55,-32);
  if(c===0){const t=T(114,Y+panelH/2,null,{rot:1});t.append("tspan").attr("font-style","italic").text("x");t.append("tspan").text(" (μm)");}
  if(bottom){const t=T(L+215,1898,null);t.append("tspan").attr("font-style","italic").text("z");t.append("tspan").text(" (mm)");}
});
</script></body></html>
